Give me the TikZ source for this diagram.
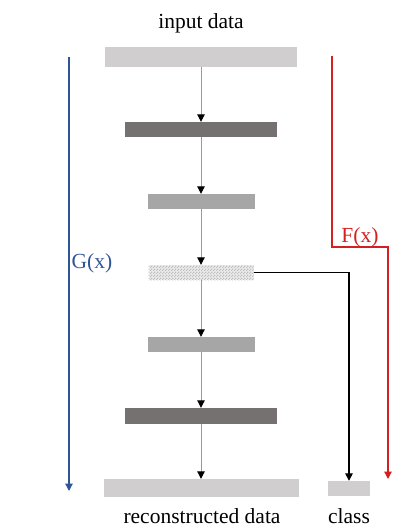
\documentclass[tikz,border=0pt]{standalone}
\usepackage{fontspec}
\setmainfont{Liberation Serif}
\usetikzlibrary{arrows.meta,patterns.meta}
\definecolor{barlight}{HTML}{D0CECE}
\definecolor{bardark}{HTML}{767171}
\definecolor{barmid}{HTML}{A6A6A6}
\definecolor{gline}{HTML}{9A9A9A}
\definecolor{gblue}{HTML}{2F5597}
\definecolor{fred}{HTML}{D42020}
% fine checkerboard for the bottleneck layer
\pgfdeclarepattern{
  name=finechecker,
  bottom left={\pgfpoint{0pt}{0pt}},
  top right={\pgfpoint{3pt}{3pt}},
  tile size={\pgfpoint{3pt}{3pt}},
  code={
    \pgfpathrectangle{\pgfpoint{0pt}{0pt}}{\pgfpoint{1.5pt}{1.5pt}}
    \pgfpathrectangle{\pgfpoint{1.5pt}{1.5pt}}{\pgfpoint{1.5pt}{1.5pt}}
    \pgfusepath{fill}
  }
}
\tikzset{
  bar/.style={rectangle, inner sep=0pt, draw=none},
  lbl/.style={font=\fontsize{21.5}{25}\selectfont, inner sep=0pt},
  flow/.style={draw=gline, line width=1pt, -{Triangle[length=7.5pt,width=7.5pt,color=black]}},
  link/.style={draw=black, line width=1.3pt, -{Triangle[length=7.5pt,width=7.5pt]}},
  gpath/.style={draw=gblue, line width=1.3pt, -{Triangle[length=7.5pt,width=7.5pt]}},
  fpath/.style={draw=fred, line width=1.3pt, -{Triangle[length=7.5pt,width=7.5pt]}},
}
\begin{document}
\begin{tikzpicture}[x=1pt,y=-1pt]
\useasboundingbox (0,0) rectangle (392,529);
% encoder / decoder bars
\node[bar, fill=barlight, minimum width=192pt, minimum height=20pt] (b1) at (201,57) {};
\node[bar, fill=bardark, minimum width=152pt, minimum height=15pt] (b2) at (201,129.5) {};
\node[bar, fill=barmid, minimum width=107pt, minimum height=15pt] (b3) at (201,201.5) {};
\node[bar, preaction={fill=gray!15}, pattern=finechecker, pattern color=gray!50,
      minimum width=105pt, minimum height=15pt] (b4) at (201,272.5) {};
\node[bar, fill=barmid, minimum width=107pt, minimum height=15pt] (b5) at (201,344.5) {};
\node[bar, fill=bardark, minimum width=152pt, minimum height=16pt] (b6) at (201,416) {};
\node[bar, fill=barlight, minimum width=195pt, minimum height=18pt] (b7) at (201,488) {};
\node[bar, fill=barlight, minimum width=42pt, minimum height=15pt] (cls) at (349,488.5) {};
% labels
\node[lbl, anchor=base] (tin) at (201,29) {input data};
\node[lbl, anchor=base] (tout) at (202,523) {reconstructed data};
\node[lbl, anchor=base] (tcls) at (349,523) {class};
\node[lbl, anchor=base, text=gblue] (tg) at (92,268) {G(x)};
\node[lbl, anchor=base, text=fred] (tf) at (360,242) {F(x)};
% data flow through the network
\draw[flow] (b1.south) -- (b2.north);
\draw[flow] (b2.south) -- (b3.north);
\draw[flow] (b3.south) -- (b4.north);
\draw[flow] (b4.south) -- (b5.north);
\draw[flow] (b5.south) -- (b6.north);
\draw[flow] (b6.south) -- (b7.north);
% bottleneck to classifier output
\draw[link] (b4.east) -| (cls.north);
% G(x) span
\coordinate (gs) at (69,57);
\coordinate (ge) at (69,491);
\draw[gpath] (gs) -- (ge);
% F(x) path
\coordinate (fs) at (332,56);
\coordinate (fk) at (332,247);
\coordinate (fe) at (388,479);
\draw[fpath] (fs) -- (fk) -| (fe);
\end{tikzpicture}
\end{document}
